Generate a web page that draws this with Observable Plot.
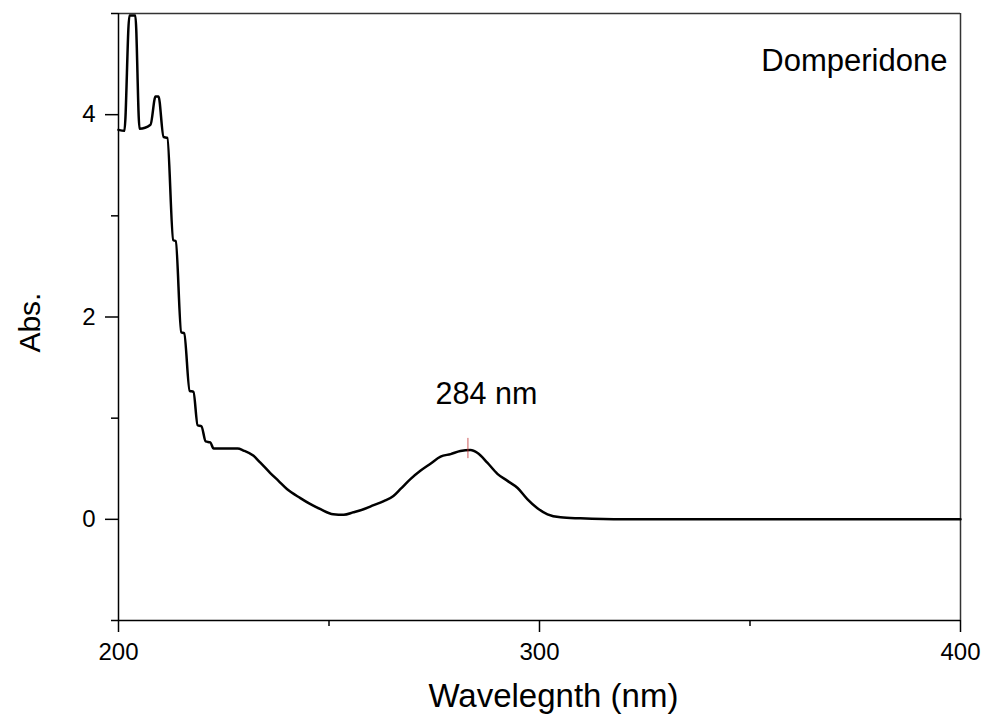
<!DOCTYPE html>
<html>
<head>
<meta charset="utf-8">
<script src="https://cdn.jsdelivr.net/npm/d3@7"></script>
<script src="https://cdn.jsdelivr.net/npm/@observablehq/plot@0.6"></script>
<style>
  html, body { margin: 0; padding: 0; background: #fff; }
  #chart svg { display: block; }
</style>
</head>
<body>
<div id="chart"></div>
<script>
// Wavelength (nm)
const wavelength = [200, 201.4, 202.6, 204.0, 205.0, 207.6, 208.8, 209.5, 210.7, 211.6, 213.0, 213.6, 214.9, 215.6, 216.9, 217.8, 218.8, 219.7, 220.7, 221.8, 222.6, 228.3, 229.7, 232, 233.7, 236, 238, 240, 243.2, 245.6, 248, 251, 253.5, 255.8, 258.2, 260.6, 263, 265.3, 267, 269.4, 271.7, 274.1, 276.5, 278.9, 281.2, 283.6, 285.3, 287.6, 290, 292.4, 294.8, 297.1, 299.5, 301.9, 305, 309.7, 320, 340, 360, 380, 400];
// Absorbance
const absorbance = [3.85, 3.84, 4.98, 4.98, 3.86, 3.90, 4.18, 4.18, 3.78, 3.77, 2.76, 2.75, 1.85, 1.84, 1.27, 1.26, 0.93, 0.92, 0.77, 0.76, 0.70, 0.70, 0.68, 0.63, 0.56, 0.46, 0.38, 0.30, 0.21, 0.15, 0.10, 0.05, 0.045, 0.07, 0.10, 0.14, 0.18, 0.23, 0.30, 0.40, 0.48, 0.55, 0.62, 0.645, 0.675, 0.685, 0.655, 0.56, 0.45, 0.38, 0.31, 0.20, 0.11, 0.05, 0.02, 0.01, 0.0, 0.0, 0.0, 0.0, 0.0];

const xMajorTicks = [200, 300, 400];
const xMinorTicks = [250, 350];
const yMajorTicks = [0, 2, 4];
const yMinorTicks = [-1, 1, 3, 5];

const compoundName = "Domperidone";
const peakLabel = "284 nm";
const peakWavelength = 283;
const xLabel = "Wavelegnth (nm)";
const yLabel = "Abs.";

const data = wavelength.map((w, i) => ({w, a: absorbance[i]}));

const font = "'Liberation Sans', Arial, Helvetica, sans-serif";

const chart = Plot.plot({
  width: 984,
  height: 716,
  marginLeft: 118,
  marginRight: 24,
  marginTop: 13,
  marginBottom: 96,
  style: {fontFamily: font, fontSize: "24px", color: "#000", background: "#fff"},
  x: {domain: [200, 400]},
  y: {domain: [-1, 5]},
  marks: [
    // frame top & right
    Plot.ruleY([5], {stroke: "#333", strokeWidth: 1.5}),
    Plot.ruleX([400], {stroke: "#333", strokeWidth: 1.5}),
    // axes lines
    Plot.ruleX([200], {stroke: "#000", strokeWidth: 1.5}),
    Plot.ruleY([-1], {stroke: "#000", strokeWidth: 1.5}),
    Plot.axisX({ticks: xMajorTicks, tickSize: 12, tickPadding: 10, tickFormat: d => String(d), fontSize: 24, stroke: "#000", strokeWidth: 1.5, label: null}),
    Plot.axisX({ticks: xMinorTicks, tickSize: 6, tickFormat: () => "", stroke: "#000", strokeWidth: 1.5, label: null}),
    Plot.axisY({ticks: yMajorTicks, tickSize: 13, tickPadding: 10, tickFormat: d => String(d), fontSize: 24, stroke: "#000", strokeWidth: 1.5, label: null}),
    Plot.axisY({ticks: yMinorTicks, tickSize: 7, tickFormat: () => "", stroke: "#000", strokeWidth: 1.5, label: null}),
    // spectrum
    Plot.line(data, {x: "w", y: "a", stroke: "#000", strokeWidth: 2.5, curve: "monotone-x"}),
    // peak marker
    Plot.ruleX([peakWavelength], {y1: 0.60, y2: 0.80, stroke: "#c03030", strokeWidth: 1, strokeOpacity: 0.8}),
    // texts
    Plot.text([peakLabel], {x: 287.4, y: 1.234, text: d => d, fontSize: 30.5, fill: "#000"}),
    Plot.text([compoundName], {x: 396.9, y: 4.53, text: d => d, textAnchor: "end", fontSize: 31, fill: "#000"}),
    Plot.text([xLabel], {x: 303.3, frameAnchor: "bottom", lineAnchor: "middle", textAnchor: "middle", dy: 76, text: d => d, fontSize: 33, fill: "#000"}),
    Plot.text([yLabel], {y: 1.945, frameAnchor: "left", textAnchor: "middle", lineAnchor: "middle", dx: -88, rotate: -90, text: d => d, fontSize: 30, fill: "#000"})
  ]
});
document.getElementById("chart").appendChild(chart);
</script>
</body>
</html>
